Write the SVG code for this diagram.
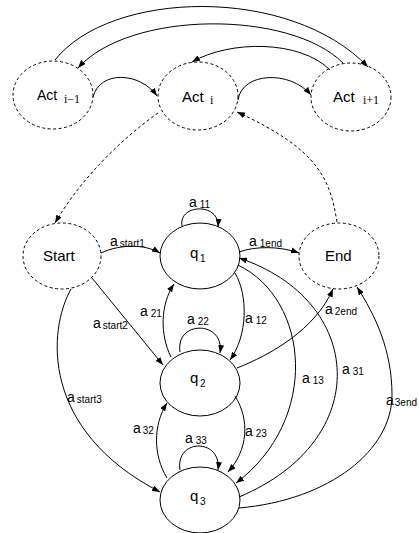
<svg xmlns="http://www.w3.org/2000/svg" width="419" height="533" viewBox="0 0 419 533">
<style>
  .dash { fill: none; stroke: #000; stroke-width: 1; stroke-dasharray: 3 2.5; }
  .solid { fill: none; stroke: #000; stroke-width: 1; }
  .edge { fill: none; stroke: #000; stroke-width: 1; marker-end: url(#arr); }
  .dedge { fill: none; stroke: #000; stroke-width: 1; stroke-dasharray: 3 2.5; marker-end: url(#arr); }
  .t { font-family: "Liberation Sans", Arial, sans-serif; fill: #000; }
  .big { font-size: 15px; }
  .lab { font-size: 14px; }
  .sub { font-size: 10px; }
  .ser { font-family: "Liberation Serif", "Times New Roman", serif; font-size: 12px; fill: #000; }
</style>
<defs>
  <marker id="arr" viewBox="0 0 8 6" refX="8" refY="3" markerWidth="8" markerHeight="6" markerUnits="userSpaceOnUse" orient="auto">
    <path d="M0,0 L8,3 L0,6 z" fill="#000" stroke="none"/>
  </marker>
</defs>

<g id="act_im1">
  <ellipse class="dash" cx="53" cy="95" rx="40" ry="34"/>
  <text class="t lab" x="37" y="100">Act</text>
  <text class="ser" x="64" y="103">i−1</text>
</g>
<g id="act_i">
  <ellipse class="dash" cx="198" cy="96" rx="40" ry="34"/>
  <text class="t big" x="182" y="102">Act</text>
  <text class="ser" x="210" y="104">i</text>
</g>
<g id="act_ip1">
  <ellipse class="dash" cx="351" cy="97" rx="40" ry="34"/>
  <text class="t big" x="333" y="102">Act</text>
  <text class="ser" x="363" y="104">i+1</text>
</g>

<g id="start">
  <ellipse class="dash" cx="62" cy="256" rx="39" ry="33"/>
  <text class="t big" x="43" y="261">Start</text>
</g>
<g id="end">
  <ellipse class="dash" cx="339" cy="256" rx="40" ry="33"/>
  <text class="t big" x="325" y="261">End</text>
</g>
<g id="q1">
  <ellipse class="solid" cx="200" cy="256" rx="40" ry="33"/>
  <text class="t big" x="190" y="258">q</text>
  <text class="t sub" x="200" y="262">1</text>
</g>
<g id="q2">
  <ellipse class="solid" cx="200" cy="383" rx="40" ry="33"/>
  <text class="t big" x="190" y="383">q</text>
  <text class="t sub" x="200" y="387">2</text>
</g>
<g id="q3">
  <ellipse class="solid" cx="200" cy="500" rx="40" ry="33"/>
  <text class="t big" x="190" y="501">q</text>
  <text class="t sub" x="200" y="505">3</text>
</g>

<g id="connectors">
  <path class="edge" d="M55,60 C110,-10 290,-15 368,67"/>
  <path class="edge" d="M343,63 C290,10 130,10 78,68"/>
  <path class="edge" d="M330,70 C300,40 230,40 192,62"/>
  <path class="edge" d="M93,97 C100,70 140,72 157,96"/>
  <path class="edge" d="M238,100 C242,72 290,70 311,95"/>
  <path class="dedge" d="M158,113 C120,140 80,180 55,223"/>
  <path class="dedge" d="M337,222 C330,180 320,150 237,112"/>

  <path class="edge" d="M101,253 C120,244 145,244 160,253"/>
  <path class="edge" d="M92,278 L163,365"/>
  <path class="edge" d="M71,289 C48,330 40,430 160,492"/>
  <path class="edge" d="M239,252 C255,246 280,246 299,253"/>
  <path class="edge" d="M182,226 C178,204 220,202 218,227"/>
  <path class="edge" d="M180,352 C175,320 225,320 220,353"/>
  <path class="edge" d="M180,470 C175,438 222,438 218,470"/>
  <path class="edge" d="M171,357 C160,335 160,305 174,284"/>
  <path class="edge" d="M235,273 C248,295 248,335 230,360"/>
  <path class="edge" d="M167,478 C153,455 153,425 167,403"/>
  <path class="edge" d="M235,396 C250,420 248,450 228,472"/>
  <path class="edge" d="M238,265 C310,300 320,420 236,483"/>
  <path class="edge" d="M239,497 C375,440 365,300 239,258"/>
  <path class="edge" d="M237,368 C270,355 315,330 333,289"/>
  <path class="edge" d="M239,508 C330,500 392,450 392,395 C392,350 375,315 357,287"/>
</g>

<g id="labels">
  <text class="t lab" x="189" y="207">a<tspan class="sub" dx="3" dy="1">11</tspan></text>
  <text class="t lab" x="110" y="246">a<tspan class="sub" dx="2" dy="1">start1</tspan></text>
  <text class="t lab" x="249" y="246">a<tspan class="sub" dx="3" dy="1">1end</tspan></text>
  <text class="t lab" x="140" y="316">a<tspan class="sub" dx="3" dy="1">21</tspan></text>
  <text class="t lab" x="93" y="328">a<tspan class="sub" dx="2" dy="1">start2</tspan></text>
  <text class="t lab" x="187" y="324">a<tspan class="sub" dx="3" dy="1">22</tspan></text>
  <text class="t lab" x="245" y="323">a<tspan class="sub" dx="3" dy="1">12</tspan></text>
  <text class="t lab" x="325" y="314">a<tspan class="sub" dx="2" dy="1">2end</tspan></text>
  <text class="t lab" x="67" y="402">a<tspan class="sub" dx="2" dy="1">start3</tspan></text>
  <text class="t lab" x="302" y="383">a<tspan class="sub" dx="3" dy="1">13</tspan></text>
  <text class="t lab" x="342" y="374">a<tspan class="sub" dx="3" dy="1">31</tspan></text>
  <text class="t lab" x="386" y="405">a<tspan class="sub" dx="1" dy="1">3end</tspan></text>
  <text class="t lab" x="133" y="433">a<tspan class="sub" dx="2" dy="1">32</tspan></text>
  <text class="t lab" x="245" y="436">a<tspan class="sub" dx="3" dy="1">23</tspan></text>
  <text class="t lab" x="185" y="443">a<tspan class="sub" dx="3" dy="1">33</tspan></text>
</g>
</svg>
